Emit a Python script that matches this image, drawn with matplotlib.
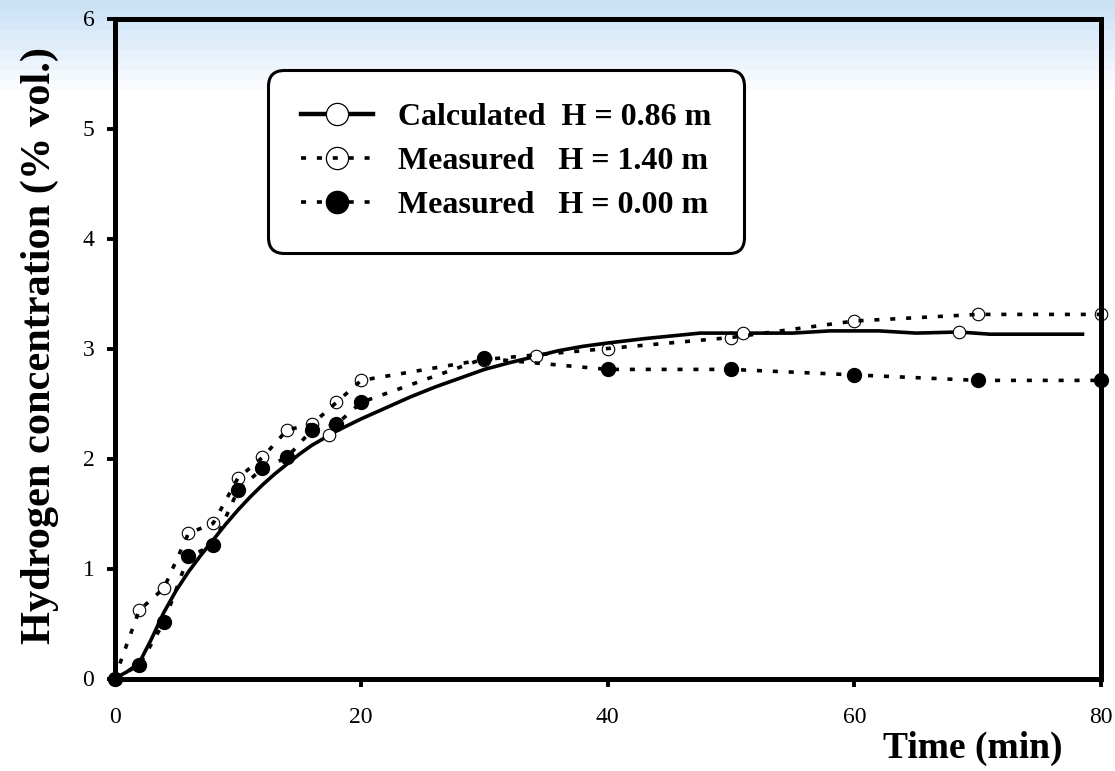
import numpy as np
import matplotlib
matplotlib.use("Agg")
import matplotlib.pyplot as plt
from matplotlib.lines import Line2D

# --- data -------------------------------------------------------------
# calculated curve, H = 0.86 m
calc_t = [0, 1, 2, 3, 4, 5, 6, 7, 8, 9, 10, 11, 12, 13, 14, 15, 16, 17.4,
          18, 20, 22, 24, 26, 28, 30, 32, 34.2, 36, 38, 40, 43, 47.5, 51,
          55, 58, 62, 65, 68.5, 71, 78.5]
calc_h = [0, 0.06, 0.14, 0.36, 0.60, 0.80, 0.97, 1.12, 1.26, 1.40, 1.53,
          1.65, 1.76, 1.86, 1.95, 2.04, 2.12, 2.21, 2.25, 2.36, 2.46, 2.56,
          2.65, 2.73, 2.81, 2.87, 2.93, 2.98, 3.02, 3.05, 3.09, 3.14, 3.14,
          3.14, 3.16, 3.16, 3.14, 3.15, 3.13, 3.13]
calc_marker_idx = [0, 17, 26, 32, 37]

# measured, H = 1.40 m
meas_hi_t = [0, 2, 4, 6, 8, 10, 12, 14, 16, 18, 20, 30, 40, 50, 60, 70, 80]
meas_hi_h = [0, 0.62, 0.82, 1.32, 1.41, 1.82, 2.01, 2.26, 2.31, 2.51, 2.71,
             2.90, 3.00, 3.10, 3.25, 3.31, 3.31]

# measured, H = 0.00 m
meas_lo_t = [0, 2, 4, 6, 8, 10, 12, 14, 16, 18, 20, 30, 40, 50, 60, 70, 80]
meas_lo_h = [0, 0.12, 0.51, 1.11, 1.21, 1.71, 1.91, 2.01, 2.26, 2.31, 2.51,
             2.91, 2.81, 2.81, 2.76, 2.71, 2.71]

x_ticks = [0, 20, 40, 60, 80]
y_ticks = [0, 1, 2, 3, 4, 5, 6]

labels = ["Calculated  H = 0.86 m",
          "Measured   H = 1.40 m",
          "Measured   H = 0.00 m"]

# --- figure -----------------------------------------------------------
W, H = 1115, 771
fig = plt.figure(figsize=(W / 100, H / 100), dpi=100)
plt.rcParams["font.family"] = ["Liberation Serif", "DejaVu Serif"]

# light blue banded wash along the top of the figure
bg = fig.add_axes([0, 0, 1, 1], zorder=-10)
bg.set_axis_off()
rows = np.arange(H)
band = np.floor(rows / 10.0)
frac = np.clip(band / 9.0, 0, 1)
top = np.array([202, 225, 246]) / 255.0
col = top[None, :] * (1 - frac[:, None]) + 1.0 * frac[:, None]
img = np.repeat(col[:, None, :], 4, axis=1)
bg.imshow(img, aspect="auto", extent=[0, 1, 0, 1], origin="upper")
bg.set_xlim(0, 1)
bg.set_ylim(0, 1)

ax = fig.add_axes([114.5 / W, 1 - 678.5 / H, (1101 - 114.5) / W,
                   (678.5 - 18.5) / H])
ax.patch.set_alpha(0)

dots = dict(linestyle=(0, (1.4, 3.0)), linewidth=2.6, color="black",
            dash_capstyle="butt")

ax.plot(calc_t, calc_h, color="black", linewidth=2.6, marker="o",
        markevery=calc_marker_idx, markersize=9, markerfacecolor="white",
        markeredgecolor="black", markeredgewidth=0.8, clip_on=False,
        zorder=3)
ax.plot(meas_hi_t, meas_hi_h, marker="o", markersize=9,
        markerfacecolor="none", markeredgecolor="black",
        markeredgewidth=0.8, clip_on=False, zorder=4, **dots)
ax.plot(meas_lo_t, meas_lo_h, marker="o", markersize=10,
        markerfacecolor="black", markeredgecolor="black",
        clip_on=False, zorder=5, **dots)

ax.set_xlim(0, 80)
ax.set_ylim(0, 6)
ax.set_xticks(x_ticks)
ax.set_yticks(y_ticks)
ax.tick_params(axis="both", direction="out", length=5.5, width=2.8,
               labelsize=17)
ax.tick_params(axis="x", pad=15)
ax.tick_params(axis="y", pad=9)
for s in ax.spines.values():
    s.set_linewidth(3.6)

fig.text(40 / W, 1 - 346 / H, "Hydrogen concentration (% vol.)",
         rotation=90, ha="center", va="center", fontsize=30.5,
         fontweight="bold")
fig.text(973 / W, 1 - 748 / H, "Time (min)", ha="center", va="center",
         fontsize=27, fontweight="bold")

# legend with larger symbols than the plotted markers
handles = [
    Line2D([], [], color="black", linewidth=3.2, marker="o", markersize=16,
           markerfacecolor="white", markeredgecolor="black",
           markeredgewidth=0.9),
    Line2D([], [], marker="o", markersize=16, markerfacecolor="none",
           markeredgecolor="black", markeredgewidth=0.9, **dots),
    Line2D([], [], marker="o", markersize=16, markerfacecolor="black",
           markeredgecolor="black", **dots),
]
leg = ax.legend(handles, labels, loc="upper left",
                bbox_to_anchor=(0.1556, 0.922), borderaxespad=0,
                prop=dict(family="Liberation Serif", weight="bold", size=23),
                handlelength=2.25, handletextpad=0.8, labelspacing=0.46,
                borderpad=1.03, fancybox=True, framealpha=1)
fr = leg.get_frame()
fr.set_edgecolor("black")
fr.set_linewidth(2.2)
fr.set_facecolor("white")
fr.set_boxstyle("round,pad=0,rounding_size=0.5")

fig.savefig("out.png", dpi=100)
